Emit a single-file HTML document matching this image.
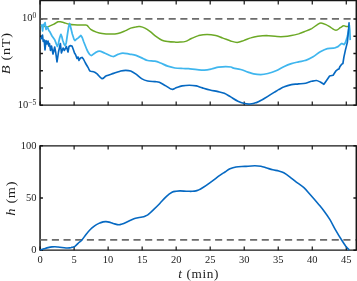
<!DOCTYPE html>
<html><head><meta charset="utf-8"><title>B and h vs t</title>
<style>
html,body{margin:0;padding:0;background:#fff;}
svg{display:block;}
text{font-family:"Liberation Serif",serif;fill:#1c1c1c;}
.tk{font-size:10.5px;}
.ex{font-size:7.5px;}
.lb{font-size:12.5px;}
.it{font-style:italic;}
</style></head><body>
<svg width="357" height="281" viewBox="0 0 357 281">
<rect width="357" height="281" fill="#fff"/>
<g fill="none" stroke="#161616" stroke-linecap="butt">
<path d="M40.05 -0.03V105.83M356.30 -0.03V105.83M40.05 145.18V250.82M356.30 145.18V250.82" stroke-width="1.5"/>
<path d="M40.05 0.60H356.30M40.05 105.20H356.30M40.05 145.80H356.30M40.05 250.20H356.30" stroke-width="1.25"/>
<path d="M40.10 105.20v-3.80M40.10 0.60v3.80M40.10 250.20v-3.80M40.10 145.80v3.80M74.12 105.20v-3.80M74.12 0.60v3.80M74.12 250.20v-3.80M74.12 145.80v3.80M108.14 105.20v-3.80M108.14 0.60v3.80M108.14 250.20v-3.80M108.14 145.80v3.80M142.16 105.20v-3.80M142.16 0.60v3.80M142.16 250.20v-3.80M142.16 145.80v3.80M176.18 105.20v-3.80M176.18 0.60v3.80M176.18 250.20v-3.80M176.18 145.80v3.80M210.20 105.20v-3.80M210.20 0.60v3.80M210.20 250.20v-3.80M210.20 145.80v3.80M244.22 105.20v-3.80M244.22 0.60v3.80M244.22 250.20v-3.80M244.22 145.80v3.80M278.24 105.20v-3.80M278.24 0.60v3.80M278.24 250.20v-3.80M278.24 145.80v3.80M312.26 105.20v-3.80M312.26 0.60v3.80M312.26 250.20v-3.80M312.26 145.80v3.80M346.28 105.20v-3.80M346.28 0.60v3.80M346.28 250.20v-3.80M346.28 145.80v3.80" stroke-width="1.2"/>
<path d="M40.05 18.90h2.90M356.30 18.90h-2.90M40.05 36.16h2.90M356.30 36.16h-2.90M40.05 53.42h2.90M356.30 53.42h-2.90M40.05 70.68h2.90M356.30 70.68h-2.90M40.05 87.94h2.90M356.30 87.94h-2.90M40.05 105.20h2.90M356.30 105.20h-2.90M40.05 250.20h2.90M356.30 250.20h-2.90M40.05 198.00h2.90M356.30 198.00h-2.90M40.05 145.80h2.90M356.30 145.80h-2.90" stroke-width="1.5"/>
</g>
<g fill="none" stroke-linejoin="round" stroke-linecap="butt">
<path d="M40.0 18.9H351.0" stroke="#6c6c6c" stroke-width="1.8" stroke-dasharray="7.1 4.56" stroke-dashoffset="-0.4"/>
<path d="M40.6 25.8C41.2 25.9 42.9 26.1 44.0 26.3C45.1 26.5 46.5 26.9 47.5 26.8C48.5 26.7 48.9 26.3 50.0 25.9C51.1 25.5 52.7 24.9 54.0 24.2C55.3 23.5 56.8 22.2 58.0 21.8C59.2 21.4 60.2 21.8 61.4 22.0C62.6 22.2 64.1 22.7 65.4 23.1C66.7 23.5 68.0 23.9 69.4 24.2C70.8 24.5 72.2 24.7 74.0 24.8C75.8 24.9 78.2 25.0 80.0 25.0C81.8 25.0 83.8 24.8 85.0 24.9C86.2 25.0 86.1 24.7 87.1 25.4C88.0 26.1 89.2 28.2 90.7 29.3C92.2 30.4 94.5 31.4 96.4 32.1C98.3 32.8 99.7 33.2 102.1 33.5C104.5 33.9 108.1 34.1 110.7 34.1C113.3 34.1 115.5 34.1 117.9 33.5C120.3 33.0 122.9 31.8 125.0 30.9C127.1 30.1 128.9 28.8 130.7 28.1C132.5 27.5 134.1 27.1 135.6 26.9C137.1 26.6 138.3 26.4 139.9 26.6C141.5 26.9 143.1 27.3 144.9 28.1C146.7 29.0 148.7 30.5 150.6 31.9C152.5 33.4 154.4 35.3 156.3 36.6C158.2 38.0 160.1 39.4 162.0 40.2C163.9 41.1 165.5 41.3 167.7 41.6C169.8 42.0 172.8 42.1 174.9 42.1C177.0 42.2 178.2 42.3 180.0 42.1C181.8 42.0 183.8 42.0 185.7 41.4C187.6 40.8 189.2 39.5 191.4 38.5C193.6 37.6 196.0 36.3 198.6 35.6C201.2 35.0 204.2 34.5 207.1 34.5C209.9 34.5 213.1 35.0 215.7 35.6C218.3 36.2 220.4 37.3 222.9 38.1C225.4 39.0 228.3 40.2 230.7 41.0C233.1 41.7 234.9 42.4 237.1 42.4C239.2 42.3 241.3 41.4 243.6 40.6C245.9 39.9 248.3 38.6 250.7 37.9C253.1 37.1 255.3 36.6 257.9 36.2C260.5 35.9 263.2 35.6 266.4 35.6C269.6 35.7 274.1 36.5 277.1 36.6C280.1 36.8 281.9 36.8 284.3 36.6C286.7 36.5 289.0 36.1 291.4 35.6C293.8 35.2 296.2 34.6 298.6 33.9C301.0 33.1 303.5 32.0 305.7 31.1C307.9 30.3 309.8 29.6 311.7 28.6C313.6 27.5 315.8 25.5 317.4 24.6C318.9 23.6 319.6 22.9 321.0 22.9C322.4 22.9 324.3 23.8 326.0 24.6C327.7 25.4 329.3 26.7 331.0 27.6C332.7 28.6 334.4 30.2 336.0 30.2C337.6 30.2 339.1 28.4 340.3 27.6C341.6 26.9 342.6 26.0 343.5 25.8C344.4 25.5 345.2 26.2 346.0 26.4C346.8 26.5 347.9 26.4 348.3 26.4" stroke="#6CA926" stroke-width="1.5"/>
<path d="M41.2 25.7L41.8 25.0L42.6 31.0L43.4 24.5L44.0 25.5L45.1 22.6L46.0 29.5L47.4 26.9L48.8 30.5L49.9 31.9L52.0 36.0L54.7 39.8L56.6 44.6L57.4 46.4L58.3 44.0L59.6 38.0L60.9 34.3L61.8 36.5L62.7 40.3L64.2 44.5L65.2 45.8L66.2 43.0L67.5 34.0L68.7 26.5L69.6 23.5L70.5 26.5L72.3 34.0L74.0 39.2L74.9 40.5L76.3 39.3L78.0 38.1L80.9 35.5L82.2 37.5L83.7 41.7L86.6 49.0C86.8 49.5 87.2 50.6 87.9 51.7C88.6 52.8 89.8 55.3 91.0 55.5C92.2 55.7 93.6 53.7 95.0 53.0C96.4 52.3 97.6 51.2 99.3 51.2C101.0 51.2 102.7 52.3 105.0 53.2C107.3 54.1 110.8 56.3 112.9 56.5C115.1 56.7 116.2 55.0 117.9 54.4C119.6 53.8 121.0 53.0 122.9 53.0C124.8 53.0 127.1 53.7 129.3 54.1C131.5 54.5 133.7 54.5 136.0 55.3C138.3 56.1 141.5 57.8 143.4 58.7C145.3 59.6 145.8 60.1 147.7 60.5C149.6 60.9 152.8 60.8 154.9 61.2C157.1 61.6 158.5 62.2 160.6 63.0C162.7 63.8 165.3 65.4 167.7 66.2C170.1 67.0 172.3 67.6 174.9 68.0C177.5 68.4 180.7 68.4 183.0 68.5C185.3 68.6 186.2 68.5 188.6 68.7C190.9 68.9 194.5 69.5 197.1 69.7C199.7 69.9 201.9 70.2 204.3 70.1C206.7 70.0 209.0 69.5 211.4 69.0C213.8 68.5 216.2 67.6 218.6 67.2C221.0 66.8 223.6 66.5 225.7 66.5C227.8 66.5 229.7 66.7 231.0 67.0C232.3 67.3 232.0 67.7 233.6 68.1C235.2 68.5 238.3 68.8 240.7 69.5C243.1 70.2 245.8 71.4 247.9 72.1C250.1 72.8 251.5 73.4 253.6 73.8C255.7 74.2 258.3 74.5 260.7 74.5C263.1 74.5 265.3 74.1 267.9 73.5C270.4 72.9 273.3 72.0 276.0 70.8C278.7 69.6 281.7 67.7 284.3 66.5C286.9 65.3 289.0 64.5 291.4 63.7C293.8 62.9 296.2 62.4 298.6 61.8C301.0 61.2 303.3 61.2 305.7 60.3C308.1 59.5 310.7 58.1 313.1 56.7C315.5 55.3 317.9 53.1 320.3 51.8C322.7 50.5 325.0 49.3 327.4 48.7C329.8 48.1 333.4 48.1 334.6 48.0L338.0 46.6L340.5 44.3L341.9 43.5L343.9 44.6L345.4 42.6L346.0 40.8L347.5 36.1L348.6 30.1L349.3 25.1L349.8 30.1L350.2 40.1" stroke="#3FB6EE" stroke-width="1.75"/>
<path d="M40.6 39.5L41.5 37.5L42.5 35.0L43.2 41.5L44.2 40.0L45.0 50.0L46.0 40.5L47.0 44.0L48.0 41.0L48.8 46.0L49.5 43.5L50.5 50.4L51.5 46.0L53.0 54.0L54.7 47.0L55.8 53.0L57.0 62.0L58.5 52.0L60.4 43.5L61.4 53.0L63.1 48.0L64.4 50.5L66.4 46.5L68.0 52.0L69.0 46.5L70.2 45.6L72.0 46.0L73.5 50.0L74.5 53.0L75.5 54.5L77.0 58.4L78.0 57.0L79.0 60.4L80.4 58.0L82.0 57.4L83.4 59.0L85.4 63.0C85.8 63.7 87.2 66.1 88.0 67.4C88.8 68.7 89.1 70.3 90.0 71.0C90.9 71.8 92.4 71.3 93.6 71.8C94.8 72.2 95.7 72.8 97.1 73.9C98.5 75.1 100.4 78.3 101.9 78.6C103.5 78.9 104.5 76.6 106.4 75.8C108.4 74.9 111.2 74.2 113.6 73.4C116.0 72.7 118.7 71.6 120.7 71.0C122.7 70.5 124.0 70.3 125.7 70.3C127.4 70.3 129.0 70.4 130.7 71.0C132.4 71.7 134.1 72.8 136.0 74.1C137.9 75.5 140.1 77.8 142.0 78.9C143.9 80.1 145.5 80.6 147.7 81.0C149.8 81.5 153.0 81.4 154.9 81.6C156.8 81.9 157.6 81.7 159.3 82.3C161.0 83.0 163.3 84.5 165.0 85.4C166.7 86.4 168.3 87.5 169.3 88.1C170.3 88.8 170.4 88.8 171.0 89.0C171.6 89.2 172.0 89.4 172.6 89.3C173.2 89.3 173.7 89.1 174.3 88.8C174.9 88.6 175.1 88.1 176.4 87.6C177.7 87.2 179.9 86.3 182.1 85.9C184.2 85.5 186.9 85.2 189.3 85.2C191.7 85.2 194.2 85.5 196.4 85.9C198.6 86.4 200.2 87.3 202.5 87.9C204.8 88.6 207.6 89.5 210.0 90.0C212.4 90.6 214.7 90.9 217.1 91.4C219.5 92.0 222.0 92.3 224.3 93.2C226.6 94.2 228.4 95.6 230.7 96.9C233.0 98.3 235.8 100.2 237.9 101.2C240.1 102.3 241.6 102.9 243.6 103.3C245.6 103.8 247.9 104.2 250.0 104.0C252.1 103.9 254.4 103.4 256.4 102.6C258.4 101.9 260.0 101.0 262.1 99.8C264.2 98.5 267.0 96.9 269.3 95.4C271.6 94.0 274.4 92.2 276.0 91.2C277.6 90.3 277.2 90.4 278.6 89.6C280.0 88.9 282.2 87.6 284.3 86.8C286.4 85.9 289.0 85.1 291.4 84.6C293.8 84.2 296.2 84.2 298.6 83.9C301.0 83.7 303.6 83.7 305.7 83.2C307.8 82.8 309.7 81.8 311.5 81.3C313.3 80.9 315.0 80.4 316.5 80.5C318.0 80.7 319.7 81.8 320.3 82.0L323.9 84.3L326.7 80.3L329.6 76.0L333.1 75.3L336.0 70.8L337.5 69.6L339.0 68.9L340.0 66.4L341.5 64.4L342.9 63.5L343.9 57.1L345.4 50.1L346.9 44.1L347.4 42.1L348.0 35.4L348.7 28.4L349.1 22.2" stroke="#0669C2" stroke-width="1.65"/>
<path d="M40.0 239.8H356.0" stroke="#6c6c6c" stroke-width="1.8" stroke-dasharray="7.1 4.56" stroke-dashoffset="-0.2"/>
<path d="M40.3 250.0C40.9 249.8 42.7 249.2 44.0 248.8C45.3 248.4 46.7 247.9 48.0 247.6C49.3 247.3 50.9 247.0 52.0 246.9C53.1 246.8 53.9 246.8 54.9 246.8C55.9 246.8 56.8 246.9 58.0 247.0C59.2 247.1 60.7 247.3 62.0 247.5C63.3 247.7 64.7 247.9 66.0 248.0C67.3 248.1 69.0 248.0 69.9 247.9C70.9 247.8 70.9 247.6 71.7 247.4C72.5 247.2 73.5 247.3 74.6 246.6C75.7 245.9 76.9 244.4 78.1 243.3C79.3 242.2 80.4 241.7 81.7 240.2C83.0 238.7 84.6 236.3 86.0 234.5C87.4 232.7 88.9 230.9 90.3 229.5C91.7 228.1 93.2 226.9 94.6 225.9C96.0 224.9 97.5 224.1 98.9 223.4C100.3 222.7 101.9 222.2 103.1 221.9C104.3 221.6 104.8 221.5 106.0 221.6C107.2 221.7 109.0 222.1 110.3 222.4C111.6 222.8 112.6 223.3 114.0 223.7C115.4 224.1 117.6 224.8 118.9 224.8C120.2 224.9 120.8 224.4 122.0 224.0C123.2 223.6 124.6 223.0 125.9 222.4C127.2 221.8 128.7 221.1 130.0 220.5C131.3 219.9 132.6 219.3 133.9 218.8C135.2 218.3 136.6 218.0 138.0 217.7C139.4 217.4 141.0 217.2 142.2 217.0C143.4 216.8 144.1 216.6 145.0 216.2C145.9 215.8 146.9 215.4 147.8 214.8C148.7 214.2 149.5 213.4 150.5 212.5C151.5 211.6 152.2 210.9 153.8 209.4C155.4 207.9 157.8 205.6 159.8 203.5C161.8 201.4 164.0 198.7 166.0 196.8C168.0 194.9 170.3 193.2 172.0 192.3C173.7 191.4 174.7 191.5 176.0 191.3C177.3 191.1 178.7 190.9 180.0 190.9C181.3 190.9 182.7 191.0 184.0 191.1C185.3 191.2 186.6 191.3 187.9 191.3C189.2 191.3 190.7 191.4 192.0 191.3C193.3 191.2 194.8 191.1 195.9 190.9C197.0 190.7 197.5 190.4 198.5 190.0C199.5 189.6 199.9 189.5 201.8 188.3C203.7 187.1 206.8 185.0 209.8 182.8C212.8 180.7 217.3 177.2 219.8 175.4C222.3 173.6 223.3 173.1 225.0 172.0C226.7 170.9 228.2 169.6 230.0 168.8C231.8 168.0 233.5 167.4 236.0 167.0C238.5 166.6 241.8 166.6 244.9 166.4C248.1 166.2 252.2 165.8 254.9 165.8C257.6 165.8 258.9 165.8 260.9 166.2C262.9 166.6 264.8 167.4 266.8 168.0C268.8 168.6 270.8 169.3 272.8 169.8C274.8 170.3 277.0 170.5 278.8 171.0C280.6 171.5 282.0 171.8 283.8 172.8C285.6 173.8 287.7 175.3 289.7 176.8C291.7 178.3 293.6 180.0 296.0 181.8C298.4 183.6 301.6 185.6 303.9 187.7C306.2 189.8 307.6 191.6 309.9 194.2C312.2 196.8 315.6 200.7 317.9 203.4C320.2 206.2 321.8 208.0 323.8 210.7C325.8 213.4 327.8 216.1 329.8 219.4C331.8 222.7 333.8 226.9 335.8 230.4C337.8 233.9 340.1 237.7 341.8 240.3C343.5 243.0 344.6 244.7 345.8 246.3C347.1 247.9 348.7 249.4 349.3 250.0" stroke="#0669C2" stroke-width="1.6"/>
</g>
<g>
<text class="tk" x="40.1" y="263.0" text-anchor="middle">0</text>
<text class="tk" x="74.1" y="263.0" text-anchor="middle">5</text>
<text class="tk" x="108.1" y="263.0" text-anchor="middle">10</text>
<text class="tk" x="142.2" y="263.0" text-anchor="middle">15</text>
<text class="tk" x="176.2" y="263.0" text-anchor="middle">20</text>
<text class="tk" x="210.2" y="263.0" text-anchor="middle">25</text>
<text class="tk" x="244.2" y="263.0" text-anchor="middle">30</text>
<text class="tk" x="278.2" y="263.0" text-anchor="middle">35</text>
<text class="tk" x="312.3" y="263.0" text-anchor="middle">40</text>
<text class="tk" x="346.3" y="263.0" text-anchor="middle">45</text>
<text class="tk" x="36.2" y="21.1" text-anchor="end">10<tspan class="ex" dy="-3.4">0</tspan></text>
<text class="tk" x="36.2" y="108.2" text-anchor="end">10<tspan class="ex" dy="-3.4">−5</tspan></text>
<text class="tk" x="36.6" y="253.0" text-anchor="end">0</text>
<text class="tk" x="36.6" y="200.8" text-anchor="end">50</text>
<text class="tk" x="36.6" y="148.6" text-anchor="end">100</text>
<text class="lb" transform="translate(198.6 277.5) scale(1.06 1)" text-anchor="middle" letter-spacing="0.6"><tspan class="it">t</tspan> (min)</text>
<text class="lb" transform="translate(10.3 53.3) rotate(-90) scale(1.15 1)" text-anchor="middle" letter-spacing="0.6"><tspan class="it">B</tspan> (nT)</text>
<text class="lb" transform="translate(14.8 198.3) rotate(-90) scale(1.15 1)" text-anchor="middle" letter-spacing="0.6"><tspan class="it">h</tspan> (m)</text>
</g>
</svg>
</body></html>
